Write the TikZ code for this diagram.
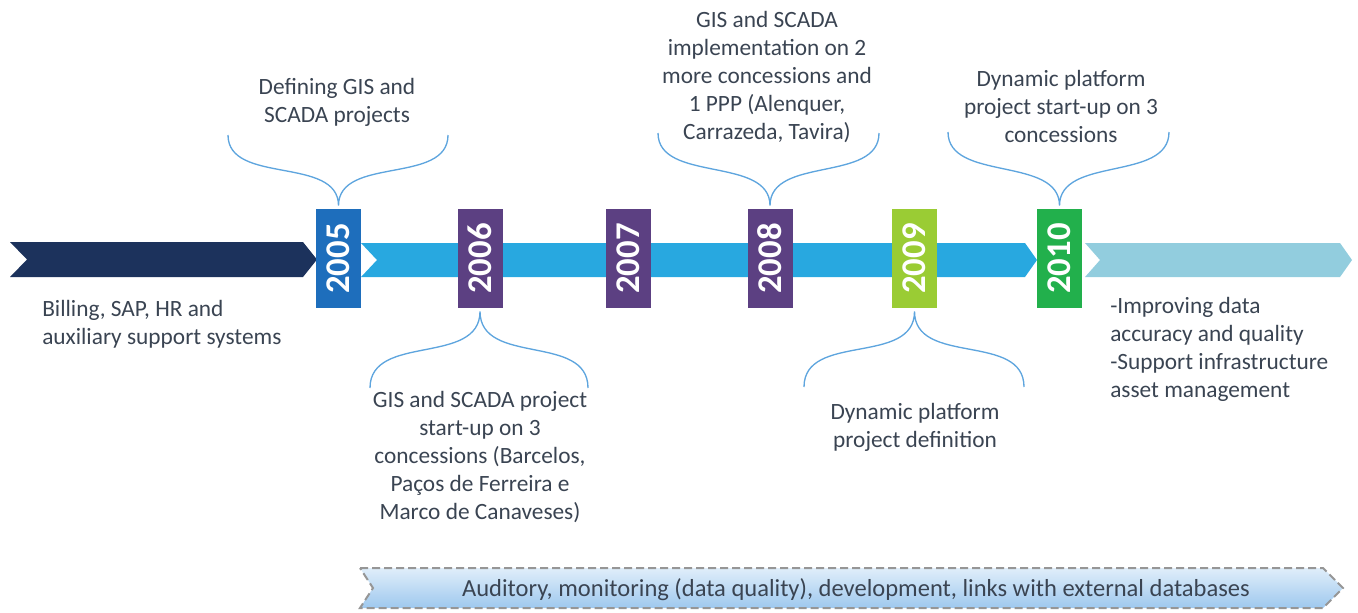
\documentclass[tikz,border=0pt]{standalone}
\usepackage{fontspec}
\setmainfont{Carlito}
\usepackage{graphicx}

\definecolor{navyarrow}{RGB}{28,50,92}
\definecolor{skyarrow}{RGB}{40,168,224}
\definecolor{palearrow}{RGB}{146,205,222}
\definecolor{blueyear}{RGB}{30,110,188}
\definecolor{purpleyear}{RGB}{92,64,130}
\definecolor{limeyear}{RGB}{154,204,52}
\definecolor{greenyear}{RGB}{34,176,76}
\definecolor{braceblue}{RGB}{94,165,222}
\definecolor{textgray}{RGB}{58,68,82}
\definecolor{bannertop}{RGB}{224,238,250}
\definecolor{bannerbot}{RGB}{158,200,238}
\definecolor{bannerline}{RGB}{150,150,150}

\begin{document}
\begin{tikzpicture}[x=0.75pt,y=0.75pt,yscale=-1,xscale=1,
	yearbox/.style={minimum width=33.75pt,minimum height=74.25pt,inner sep=0pt,outer sep=2.5pt,text=white,font=\fontsize{26}{26}\selectfont\bfseries},
	note/.style={align=center,text=textgray,font=\fontsize{17.5}{21}\selectfont,inner sep=0pt},
	bracket/.style={draw=braceblue,line width=1pt}]
			\useasboundingbox (0,0) rectangle (1358,612);

			\fill[navyarrow] (10,242) -- (303,242) -- (317,259.5) -- (303,277) -- (10,277) -- (27,259.5) -- cycle;
			\fill[skyarrow] (361,243) -- (1025,243) -- (1037,260) -- (1025,277) -- (361,277) -- (377,260) -- cycle;
			\fill[palearrow] (1085,243) -- (1340,243) -- (1352,260) -- (1340,277) -- (1085,277) -- (1100,260) -- cycle;

			\node[yearbox,fill=blueyear] (y2005) at (338.5,258.5) {\rotatebox{90}{2005}};
			\node[yearbox,fill=purpleyear] (y2006) at (480,258.5) {\rotatebox{90}{2006}};
			\node[yearbox,fill=purpleyear] (y2007) at (628.5,258.5) {\rotatebox{90}{2007}};
			\node[yearbox,fill=purpleyear] (y2008) at (770,258.5) {\rotatebox{90}{2008}};
			\node[yearbox,fill=limeyear] (y2009) at (914.5,258.5) {\rotatebox{90}{2009}};
			\node[yearbox,fill=greenyear] (y2010) at (1059.5,258.5) {\rotatebox{90}{2010}};

			\coordinate (b5l) at (228,135);
			\coordinate (b5r) at (448,135);
			\coordinate (b6l) at (370,388);
			\coordinate (b6r) at (588,388);
			\coordinate (b8l) at (658,133);
			\coordinate (b8r) at (879,133);
			\coordinate (b9l) at (804,387);
			\coordinate (b9r) at (1024,387);
			\coordinate (b10l) at (948,132);
			\coordinate (b10r) at (1169,132);

			\draw[bracket] (b5l) .. controls +(0,50) and +(0,-50) .. (y2005.north) .. controls +(0,-50) and +(0,50) .. (b5r);
			\draw[bracket] (b8l) .. controls +(0,50) and +(0,-50) .. (y2008.north) .. controls +(0,-50) and +(0,50) .. (b8r);
			\draw[bracket] (b10l) .. controls +(0,50) and +(0,-50) .. (y2010.north) .. controls +(0,-50) and +(0,50) .. (b10r);
			\draw[bracket] (b6l) .. controls +(0,-55) and +(0,55) .. (y2006.south) .. controls +(0,55) and +(0,-55) .. (b6r);
			\draw[bracket] (b9l) .. controls +(0,-55) and +(0,55) .. (y2009.south) .. controls +(0,55) and +(0,-55) .. (b9r);

			\node[note] (t2005) at (337,102.5) {Defining GIS and\\SCADA projects};
			\node[note] (t2006) at (480,457.5) {GIS and SCADA project\\start-up on 3\\concessions (Barcelos,\\Paços de Ferreira e\\Marco de Canaveses)};
			\node[note] (t2008) at (767,77.5) {GIS and SCADA\\implementation on 2\\more concessions and\\1 PPP (Alenquer,\\Carrazeda, Tavira)};
			\node[note] (t2009) at (915,427.5) {Dynamic platform\\project definition};
			\node[note] (t2010) at (1061,106.5) {Dynamic platform\\project start-up on 3\\concessions};
			\node[note,align=left,anchor=west] (legacy) at (42,324.5) {Billing, SAP, HR and\\auxiliary support systems};
			\node[note,align=left,anchor=west] (goals) at (1110,349) {-Improving data\\accuracy and quality\\-Support infrastructure\\asset management};

			\draw[bannerline,line width=1.5pt,dash pattern=on 6pt off 3pt,top color=bannertop,bottom color=bannerbot] (360,568) -- (1323,568) -- (1343,588) -- (1323,608) -- (360,608) -- (373,588) -- cycle;
			\node[note,font=\fontsize{18.4}{21}\selectfont] (ongoing) at (856,590) {Auditory, monitoring (data quality), development, links with external databases};
\end{tikzpicture}
\end{document}
